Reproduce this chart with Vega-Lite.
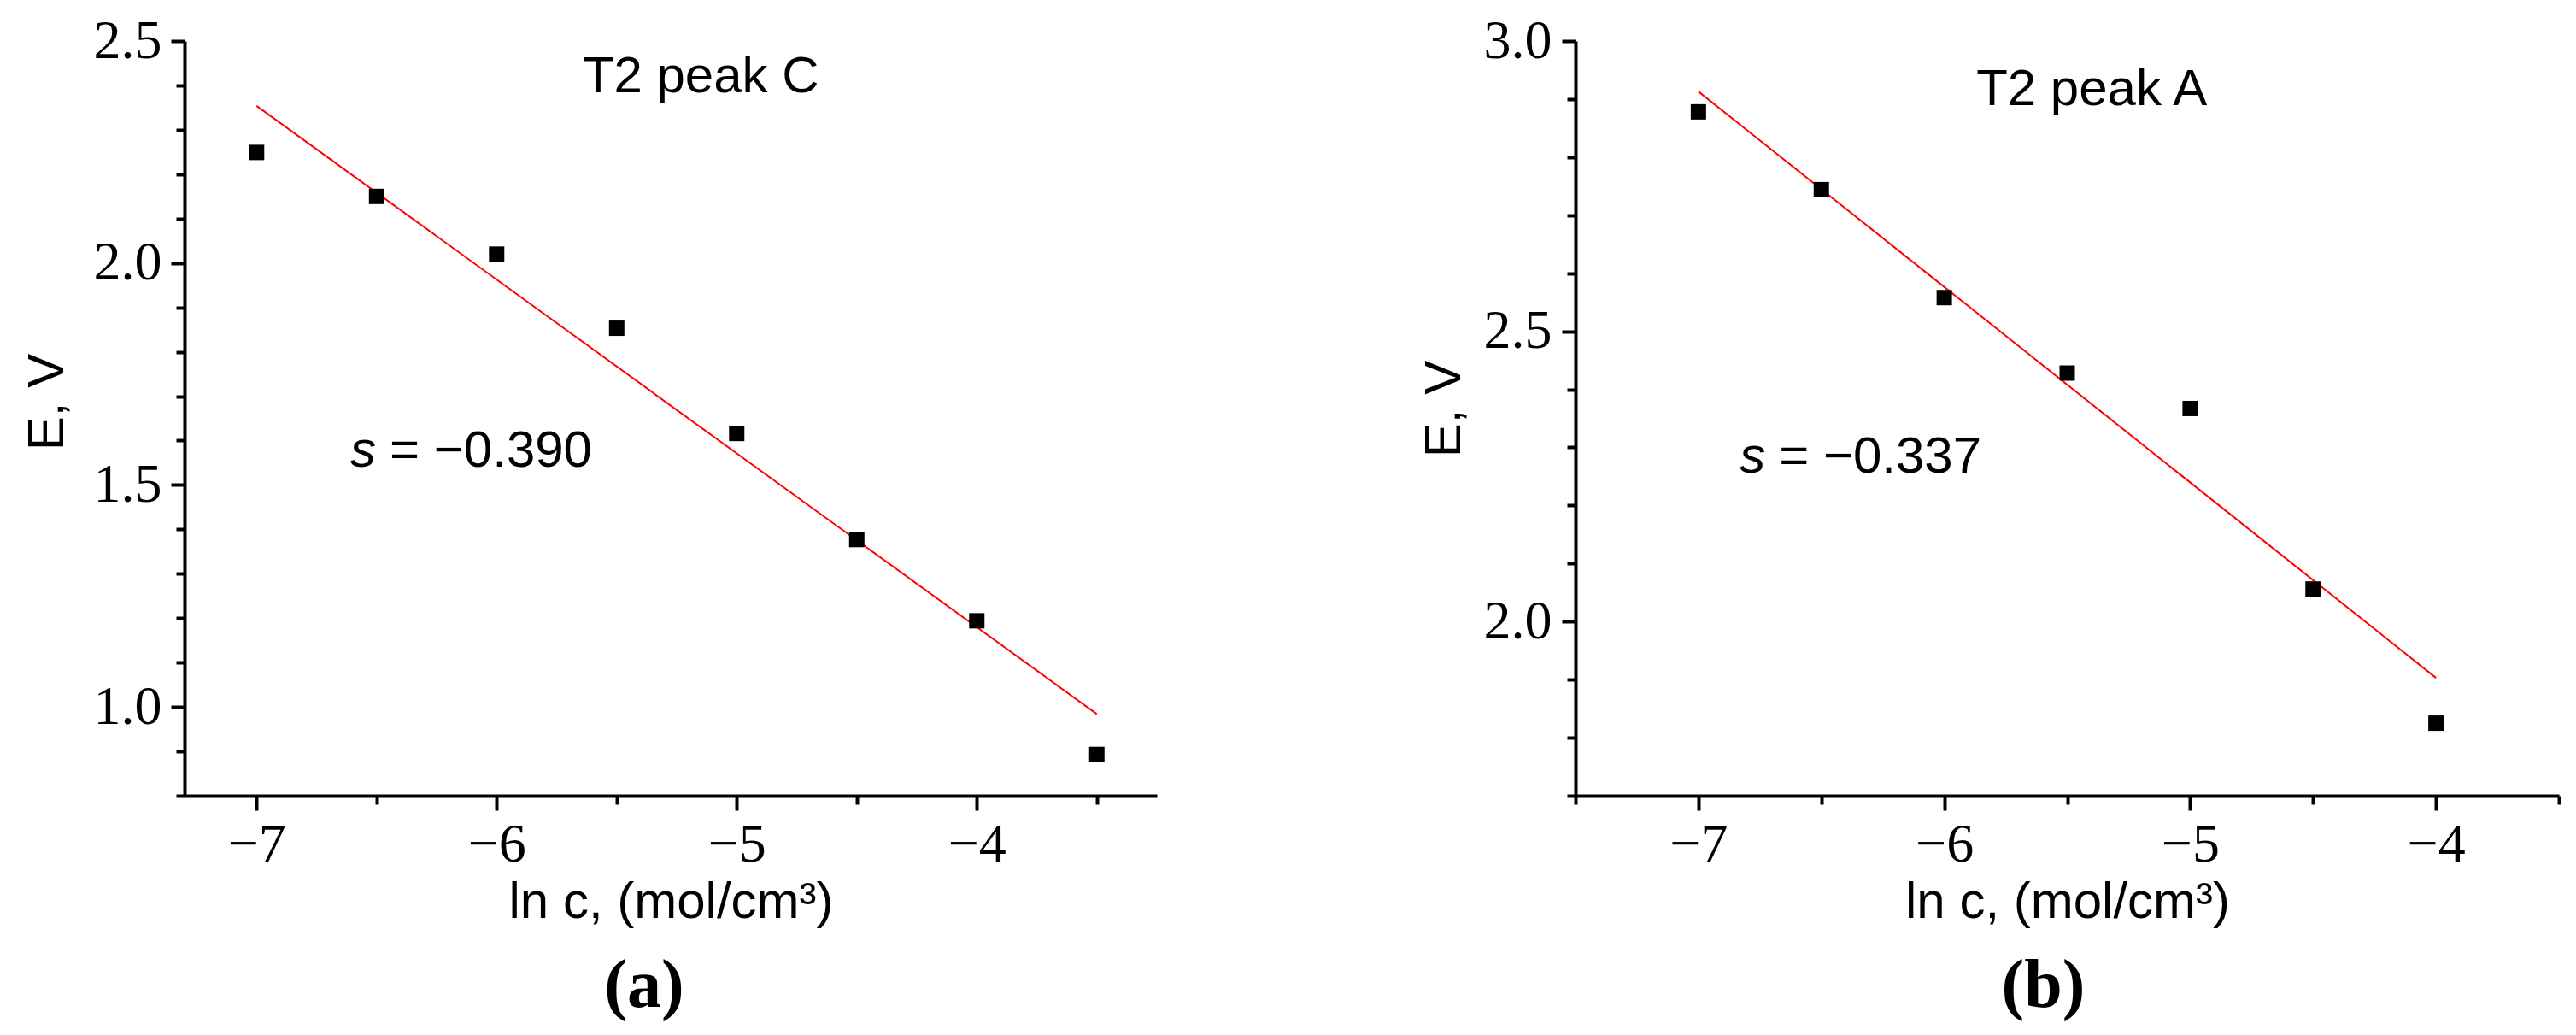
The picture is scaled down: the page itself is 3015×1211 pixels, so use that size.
{
  "$schema": "https://vega.github.io/schema/vega-lite/v6.json",
  "background": "white",
  "padding": {"left": 25, "top": 16, "right": 5, "bottom": 5},
  "spacing": 490,
  "bounds": "flush",
  "config": {
    "view": {"stroke": null},
    "axis": {
      "grid": false,
      "domainColor": "black",
      "domainWidth": 4,
      "tickColor": "black",
      "tickWidth": 4,
      "labelFont": "Liberation Serif",
      "labelFontSize": 64,
      "labelColor": "black",
      "labelOverlap": false,
      "labelFlush": false,
      "titleFont": "Liberation Sans",
      "titleFontSize": 60,
      "titleFontWeight": "normal",
      "titleColor": "black"
    }
  },
  "datasets": {
    "a_pts": [
      {"x": -7, "y": 2.249}, {"x": -6.5, "y": 2.15}, {"x": -6, "y": 2.02}, {"x": -5.5, "y": 1.853},
      {"x": -5, "y": 1.616}, {"x": -4.5, "y": 1.377}, {"x": -4, "y": 1.194}, {"x": -3.5, "y": 0.893}
    ],
    "a_fit": [{"x": -7, "y": 2.354}, {"x": -3.5, "y": 0.984}],
    "a_peak": [{"x": -5.15, "y": 2.385, "label": "T2 peak C"}],
    "a_s": [{"x": -6.474, "y": 1.542, "s": "s", "rest": "= −0.390"}],
    "b_pts": [
      {"x": -7, "y": 2.878}, {"x": -6.5, "y": 2.744}, {"x": -6, "y": 2.558}, {"x": -5.5, "y": 2.428},
      {"x": -5, "y": 2.367}, {"x": -4.5, "y": 2.056}, {"x": -4, "y": 1.825}
    ],
    "b_fit": [{"x": -7, "y": 2.913}, {"x": -4, "y": 1.903}],
    "b_peak": [{"x": -5.4, "y": 2.89, "label": "T2 peak A"}],
    "b_s": [{"x": -6.7, "y": 2.257, "s": "s", "rest": "= −0.337"}]
  },
  "hconcat": [
    {
      "width": 1138,
      "height": 883,
      "title": {"text": "(a)", "orient": "bottom", "font": "Liberation Serif", "fontSize": 80, "fontWeight": "bold", "color": "black", "offset": 30, "dx": -31},
      "encoding": {
        "x": {
          "field": "x", "type": "quantitative",
          "scale": {"domain": [-7.3, -3.25], "nice": false, "zero": false},
          "axis": {
            "title": "ln c, (mol/cm³)",
            "values": [-7, -6.5, -6, -5.5, -5, -4.5, -4, -3.5],
            "format": ".0f",
            "labelExpr": "datum.value % 1 == 0 ? datum.label : ''",
            "tickSize": {"condition": {"test": "datum.value % 1 == 0", "value": 17}, "value": 10},
            "labelPadding": 8,
            "titlePadding": 6
          }
        },
        "y": {
          "field": "y", "type": "quantitative",
          "scale": {"domain": [0.8, 2.5], "nice": false, "zero": false},
          "axis": {
            "title": "E, V",
            "values": [0.8, 0.9, 1.0, 1.1, 1.2, 1.3, 1.4, 1.5, 1.6, 1.7, 1.8, 1.9, 2.0, 2.1, 2.2, 2.3, 2.4, 2.5],
            "format": ".1f",
            "labelExpr": "abs(round(datum.value * 10) % 5) == 0 ? datum.label : ''",
            "tickSize": {"condition": {"test": "abs(round(datum.value * 10) % 5) == 0", "value": 16}, "value": 10},
            "labelPadding": 11,
            "titlePadding": 23,
            "titleY": 422
          }
        }
      },
      "layer": [
        {"data": {"name": "a_fit"}, "mark": {"type": "line", "color": "#ff0000", "strokeWidth": 2}, "encoding": {}},
        {"data": {"name": "a_pts"}, "mark": {"type": "point", "shape": "square", "filled": true, "color": "black", "size": 324, "opacity": 1}},
        {"data": {"name": "a_peak"}, "mark": {"type": "text", "font": "Liberation Sans", "fontSize": 60, "align": "center", "baseline": "alphabetic", "color": "black"}, "encoding": {"text": {"field": "label"}}},
        {"data": {"name": "a_s"}, "mark": {"type": "text", "font": "Liberation Sans", "fontSize": 60, "fontStyle": "italic", "align": "right", "baseline": "alphabetic", "dx": -8, "color": "black"}, "encoding": {"text": {"field": "s"}}},
        {"data": {"name": "a_s"}, "mark": {"type": "text", "font": "Liberation Sans", "fontSize": 60, "align": "left", "baseline": "alphabetic", "dx": 8, "color": "black"}, "encoding": {"text": {"field": "rest"}}}
      ]
    },
    {
      "width": 1151,
      "height": 883,
      "title": {"text": "(b)", "orient": "bottom", "font": "Liberation Serif", "fontSize": 80, "fontWeight": "bold", "color": "black", "offset": 30, "dx": -28},
      "encoding": {
        "x": {
          "field": "x", "type": "quantitative",
          "scale": {"domain": [-7.5, -3.5], "nice": false, "zero": false},
          "axis": {
            "title": "ln c, (mol/cm³)",
            "values": [-7.5, -7, -6.5, -6, -5.5, -5, -4.5, -4, -3.5],
            "format": ".0f",
            "labelExpr": "datum.value % 1 == 0 ? datum.label : ''",
            "tickSize": {"condition": {"test": "datum.value % 1 == 0", "value": 17}, "value": 10},
            "labelPadding": 8,
            "titlePadding": 6
          }
        },
        "y": {
          "field": "y", "type": "quantitative",
          "scale": {"domain": [1.7, 3.0], "nice": false, "zero": false},
          "axis": {
            "title": "E, V",
            "values": [1.7, 1.8, 1.9, 2.0, 2.1, 2.2, 2.3, 2.4, 2.5, 2.6, 2.7, 2.8, 2.9, 3.0],
            "format": ".1f",
            "labelExpr": "abs(round(datum.value * 10) % 5) == 0 ? datum.label : ''",
            "tickSize": {"condition": {"test": "abs(round(datum.value * 10) % 5) == 0", "value": 16}, "value": 10},
            "labelPadding": 12,
            "titlePadding": 15,
            "titleY": 430
          }
        }
      },
      "layer": [
        {"data": {"name": "b_fit"}, "mark": {"type": "line", "color": "#ff0000", "strokeWidth": 2}, "encoding": {}},
        {"data": {"name": "b_pts"}, "mark": {"type": "point", "shape": "square", "filled": true, "color": "black", "size": 324, "opacity": 1}},
        {"data": {"name": "b_peak"}, "mark": {"type": "text", "font": "Liberation Sans", "fontSize": 60, "align": "center", "baseline": "alphabetic", "color": "black"}, "encoding": {"text": {"field": "label"}}},
        {"data": {"name": "b_s"}, "mark": {"type": "text", "font": "Liberation Sans", "fontSize": 60, "fontStyle": "italic", "align": "right", "baseline": "alphabetic", "dx": -8, "color": "black"}, "encoding": {"text": {"field": "s"}}},
        {"data": {"name": "b_s"}, "mark": {"type": "text", "font": "Liberation Sans", "fontSize": 60, "align": "left", "baseline": "alphabetic", "dx": 8, "color": "black"}, "encoding": {"text": {"field": "rest"}}}
      ]
    }
  ]
}
